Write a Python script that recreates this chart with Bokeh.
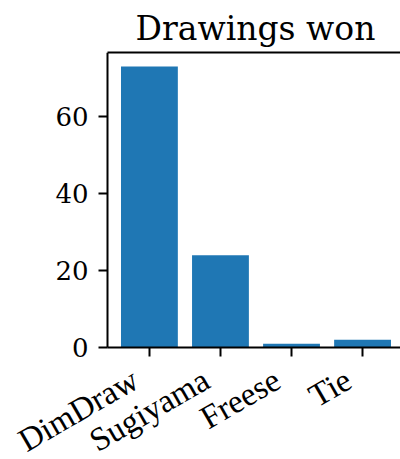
from bokeh.plotting import figure
from bokeh.models import FixedTicker, LinearAxis, Range1d, LabelSet, ColumnDataSource
from bokeh.embed import file_html
from bokeh.resources import INLINE
import math

categories = ["DimDraw", "Sugiyama", "Freese", "Tie"]
wins = [73, 24, 1, 2]
y_ticks = [0, 20, 40, 60]

FONT = "DejaVu Serif"
xs = list(range(len(categories)))

W, H = 400, 459
# axes box of the reference (pixels): left 107, top 52, zero line 347
AX_L, AX_T, AX_B = 107, 52, 347
x_lo, x_hi = -0.59, 3.534          # data span from axes left to window edge
ymax = max(wins) * 1.05
scale_x = (W - AX_L) / (x_hi - x_lo)
x_start = x_lo - AX_L / scale_x
ymin = -ymax * (H - AX_B) / (AX_B - AX_T)

p = figure(width=W, height=H, output_backend="svg", toolbar_location=None,
           x_range=Range1d(x_start, x_hi), y_range=Range1d(ymin, ymax),
           min_border_left=0, min_border_right=0, min_border_top=AX_T, min_border_bottom=0)

p.title.text = "Drawings won"
p.title.text_font = FONT
p.title.text_font_size = "33px"
p.title.text_font_style = "normal"
p.title.text_color = "black"
p.title.align = "left"
p.title.offset = 135

p.vbar(x=xs, top=wins, bottom=0, width=0.8, color="#1f77b4", line_color=None)

p.outline_line_color = None
p.grid.visible = False
p.xaxis.visible = False
p.yaxis.visible = False

xaxis = LinearAxis(ticker=FixedTicker(ticks=xs), fixed_location=0, bounds=(x_lo, x_hi),
                   axis_line_width=2, axis_line_color="black",
                   major_tick_line_width=2, major_tick_line_color="black",
                   major_tick_out=9, major_tick_in=0, minor_tick_line_color=None,
                   major_label_text_color=None)
p.add_layout(xaxis, "below")

yaxis = LinearAxis(ticker=FixedTicker(ticks=y_ticks), fixed_location=x_lo, bounds=(0, ymax),
                   axis_line_width=2, axis_line_color="black",
                   major_tick_line_width=2, major_tick_line_color="black",
                   major_tick_out=9, major_tick_in=0, minor_tick_line_color=None,
                   major_label_text_color="black", major_label_text_font=FONT,
                   major_label_text_font_size="26px", major_label_standoff=10)
p.add_layout(yaxis, "left")

label_src = ColumnDataSource(dict(x=xs, y=[0] * len(xs), text=categories))
labels = LabelSet(x="x", y="y", text="text", source=label_src,
                  angle=math.pi / 6, text_align="right", text_baseline="top",
                  x_offset=-23, y_offset=-14, text_font=FONT, text_font_size="33px",
                  text_color="black")
p.add_layout(labels)

top = LinearAxis(ticker=FixedTicker(ticks=[]), bounds=(x_lo, x_hi),
                 axis_line_width=2, axis_line_color="black",
                 major_tick_line_color=None, minor_tick_line_color=None,
                 major_label_standoff=0)
p.add_layout(top, "above")

open("out.html", "w").write(file_html(p, INLINE))
